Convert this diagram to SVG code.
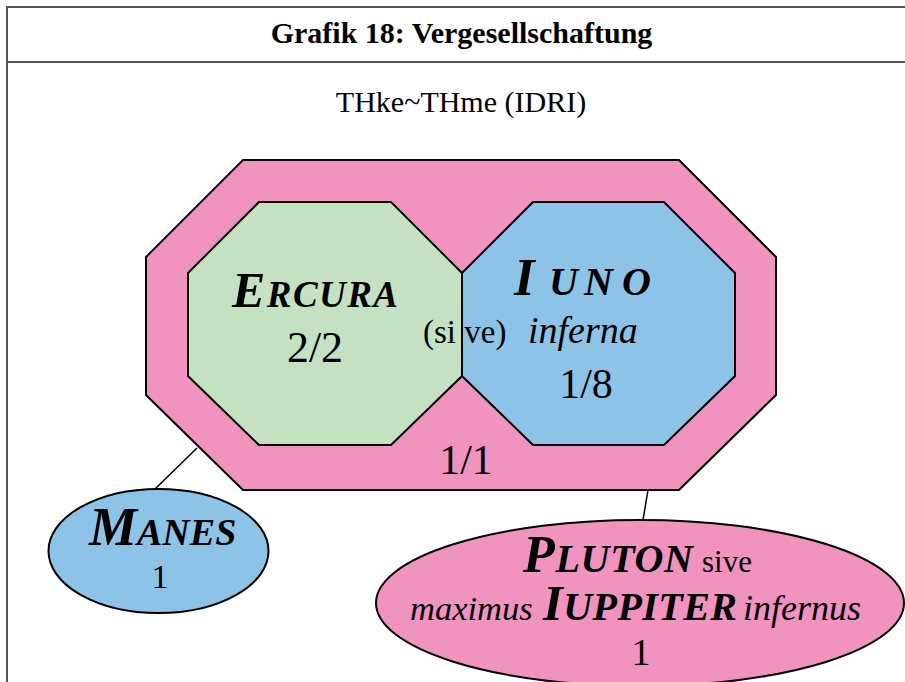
<svg xmlns="http://www.w3.org/2000/svg" width="905" height="682" viewBox="0 0 905 682">
<style>
.frame{stroke:#555;stroke-width:2;fill:none}
.shape{stroke:#000;stroke-width:2}
.pink{fill:#F193BF}
.green{fill:#C4E2C2}
.blue{fill:#8EC3E8}
.conn{stroke:#000;stroke-width:1.5;fill:none}
text{fill:#000}
.bi{font-weight:bold;font-style:italic}
.it{font-style:italic}
.c{text-anchor:middle}
</style>
<rect width="905" height="682" fill="#fff"/>
<g font-family="Liberation Serif, Times New Roman, serif">
<g id="frame">
<path class="frame" d="M7,682 V7 H905 M7,62 H905"/>
<text class="c" x="461.5" y="43" font-size="30" font-weight="bold">Grafik 18: Vergesellschaftung</text>
<text class="c" x="461" y="112" font-size="30">THke~THme (IDRI)</text>
</g>
<g id="connectors">
<line class="conn" x1="197" y1="448" x2="155" y2="489"/>
<line class="conn" x1="648" y1="490" x2="643" y2="520"/>
</g>
<g id="outer">
<polygon class="shape pink" points="243,160 679,160 776,257 776,395 679,490 243,490 146,395 146,257"/>
<text class="c" x="466" y="474" font-size="42">1/1</text>
</g>
<g id="ercura">
<polygon class="shape green" points="259,202 391,202 462,273 462,376 391,445 259,445 188,376 188,273"/>
<text class="bi" x="232" y="307" textLength="166" lengthAdjust="spacing"><tspan font-size="50">E</tspan><tspan font-size="37">RCURA</tspan></text>
<text class="c" x="315" y="362" font-size="44">2/2</text>
</g>
<g id="iuno">
<polygon class="shape blue" points="533,202 664,202 735,273 735,376 664,445 533,445 462,376 462,273"/>
<text class="bi" y="295"><tspan x="514" font-size="53">I</tspan><tspan x="549" font-size="40">U</tspan><tspan x="584" font-size="40">N</tspan><tspan x="622" font-size="40">O</tspan></text>
<text x="423" y="343" font-size="33">(si ve)</text>
<text class="it" x="528" y="343" font-size="38">inferna</text>
<text class="c" x="586" y="398" font-size="42">1/8</text>
</g>
<g id="manes">
<ellipse class="shape blue" cx="158.5" cy="551" rx="110" ry="62"/>
<text class="bi" x="89" y="545"><tspan font-size="54">M</tspan><tspan font-size="38">ANES</tspan></text>
<text class="c" x="160" y="588" font-size="34">1</text>
</g>
<g id="pluton">
<ellipse class="shape pink" cx="640" cy="603" rx="264" ry="83"/>
<text class="bi" x="523" y="572" textLength="170" lengthAdjust="spacing"><tspan font-size="52">P</tspan><tspan font-size="40">LUTON</tspan></text>
<text x="702" y="572" font-size="31">sive</text>
<text class="it" x="410" y="620" font-size="34.5">maximus</text>
<text class="bi" x="543" y="620" textLength="194" lengthAdjust="spacing"><tspan font-size="51">I</tspan><tspan font-size="40">UPPITER</tspan></text>
<text class="it" x="743" y="620" font-size="36">infernus</text>
<text class="c" x="641" y="665" font-size="38">1</text>
</g>
</g>
</svg>
